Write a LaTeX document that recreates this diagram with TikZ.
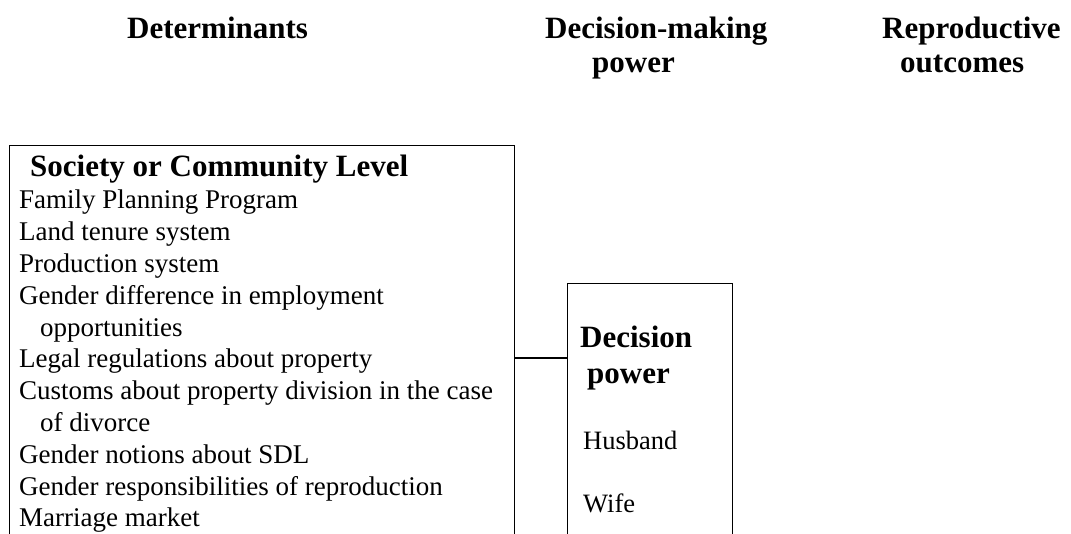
\documentclass[tikz,border=0pt]{standalone}
\usepackage{fontspec}
\setmainfont{Liberation Serif}
\usepackage{tikz}
\tikzstyle{levelbox} = [draw=black, line width=1.3pt, rectangle, inner sep=0pt, anchor=north west]
\tikzstyle{coltitle} = [font=\bfseries\fontsize{31}{34}\selectfont, inner sep=0pt, anchor=base west]
\tikzstyle{boxtext} = [inner sep=0pt, anchor=base west]

\begin{document}
\begin{tikzpicture}[x=1pt,y=-1pt]
\useasboundingbox (0,0) rectangle (1071,533);
\clip (0,0) rectangle (1071,533);
% column titles
\node[coltitle] (determ) at (127,38) {Determinants};
\node[coltitle] (decmak) at (545,38) {\begin{tabular}[t]{@{}l@{}}Decision-making\\\hspace*{47pt}power\end{tabular}};
\node[coltitle] (reprod) at (882,38) {\begin{tabular}[t]{@{}l@{}}Reproductive\\\hspace*{18pt}outcomes\end{tabular}};

% boxes (cut off at the bottom of the page)
\node[levelbox, minimum width=505pt, minimum height=480pt] (society) at (9,145) {};
\node[levelbox, minimum width=165pt, minimum height=340pt] (power) at (567,283) {};

\node[boxtext] (societytext) at (19,176) {
    \begin{minipage}[t]{490pt}\raggedright
    {\fontsize{31}{33}\selectfont\bfseries\hspace*{11pt}Society or Community Level\par}
    \fontsize{27}{31.8}\selectfont
    \vspace{1pt}Family Planning Program\\
    Land tenure system\\
    Production system\\
    Gender difference in employment\\
    \hspace*{21pt}opportunities\\
    Legal regulations about property\\
    Customs about property division in the case\\
    \hspace*{21pt}of divorce\\
    Gender notions about SDL\\
    Gender responsibilities of reproduction\\
    Marriage market
    \end{minipage}
};
\node[boxtext] (powertext) at (580,347) {
    \begin{minipage}[t]{145pt}\raggedright
    \fontsize{31}{36}\selectfont\bfseries Decision\\\hspace*{7pt}power\par
    \fontsize{26.5}{31.7}\selectfont\mdseries
    \vspace{35pt}\hspace*{3pt}Husband\par
    \vspace{31pt}\hspace*{3pt}Wife
    \end{minipage}
};

\coordinate (link) at (0,358);
\draw[line width=1.3pt] (society.east |- link) -- (power.west |- link);
\end{tikzpicture}
\end{document}
